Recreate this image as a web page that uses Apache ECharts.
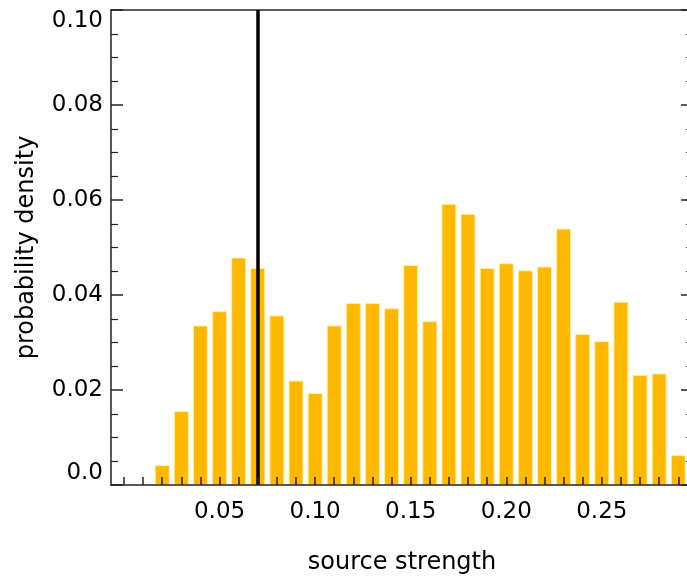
<!DOCTYPE html>
<html>
<head>
<meta charset="utf-8">
<script src="https://cdn.jsdelivr.net/npm/echarts@6/dist/echarts.min.js"></script>
<style>
  html, body { margin: 0; padding: 0; background: #fff; }
  #chart { width: 687px; height: 583px; }
</style>
</head>
<body>
<div id="chart"></div>
<script>
// bin centres (source strength) and histogram heights
const binCenters = [0.02, 0.03, 0.04, 0.05, 0.06, 0.07, 0.08, 0.09, 0.10, 0.11,
  0.12, 0.13, 0.14, 0.15, 0.16, 0.17, 0.18, 0.19, 0.20, 0.21,
  0.22, 0.23, 0.24, 0.25, 0.26, 0.27, 0.28, 0.29];
const densities = [0.0042, 0.0156, 0.0336, 0.0366, 0.0479, 0.0457, 0.0357, 0.0220, 0.0194, 0.0336,
  0.0383, 0.0383, 0.0372, 0.0463, 0.0345, 0.0592, 0.0571, 0.0457, 0.0467, 0.0452,
  0.0460, 0.0540, 0.0318, 0.0303, 0.0386, 0.0232, 0.0235, 0.0063];
const markerValue = 0.07;
const xTickValues = [0.00, 0.01, 0.02, 0.03, 0.04, 0.05, 0.06, 0.07, 0.08, 0.09,
  0.10, 0.11, 0.12, 0.13, 0.14, 0.15, 0.16, 0.17, 0.18, 0.19,
  0.20, 0.21, 0.22, 0.23, 0.24, 0.25, 0.26, 0.27, 0.28, 0.29];
const xLabelValues = [0.05, 0.10, 0.15, 0.20, 0.25];

const font = "'DejaVu Sans', Verdana, sans-serif";
const chart = echarts.init(document.getElementById("chart"));

const frameLine = { show: true, lineStyle: { color: "#222", width: 1.5 } };

chart.setOption({
  animation: false,
  grid: { left: 111, top: 10, width: 582, height: 475, containLabel: false, outerBoundsMode: "none" },
  xAxis: [{
    type: "value",
    min: -0.0068,
    max: 0.2977,
    z: 5,
    name: "source strength",
    nameLocation: "middle",
    nameGap: 66,
    nameTextStyle: { fontFamily: font, fontSize: 24, color: "#000" },
    axisLine: { ...frameLine, onZero: false },
    splitLine: { show: false },
    axisTick: { show: true, inside: true, length: 8, customValues: xTickValues,
      lineStyle: { color: "#222", width: 1.5 } },
    axisLabel: { customValues: xLabelValues, margin: 16, fontFamily: font, fontSize: 23, color: "#000",
      formatter: (v) => v.toFixed(2) },
  }, {
    type: "value",
    position: "top",
    min: -0.0068,
    max: 0.2977,
    axisLine: { ...frameLine, onZero: false },
    axisTick: { show: false },
    axisLabel: { show: false },
    splitLine: { show: false },
  }],
  yAxis: [{
    type: "value",
    min: 0,
    max: 0.1,
    interval: 0.02,
    z: 5,
    name: "probability density",
    nameLocation: "middle",
    nameGap: 72,
    nameTextStyle: { fontFamily: font, fontSize: 24, color: "#000" },
    axisLine: { ...frameLine, onZero: false },
    splitLine: { show: false },
    axisTick: { show: true, inside: true, length: 12, lineStyle: { color: "#222", width: 1.5 } },
    minorTick: { show: true, splitNumber: 4, length: 7, lineStyle: { color: "#222", width: 1.2 } },
    axisLabel: { margin: 8, fontFamily: font, fontSize: 23, color: "#000",
      verticalAlignMinLabel: "bottom", verticalAlignMaxLabel: "top",
      formatter: (v) => (v === 0 ? "0.0" : v.toFixed(2)) },
  }, {
    type: "value",
    position: "right",
    min: 0,
    max: 0.1,
    interval: 0.02,
    z: 5,
    axisLine: { ...frameLine, onZero: false },
    splitLine: { show: false },
    axisTick: { show: true, inside: true, length: 12, lineStyle: { color: "#222", width: 1.5 } },
    minorTick: { show: true, splitNumber: 4, length: 7, lineStyle: { color: "#222", width: 1.2 } },
    axisLabel: { show: false },
  }],
  series: [{
    type: "bar",
    xAxisIndex: 0,
    yAxisIndex: 0,
    barWidth: 15,
    data: binCenters.map((c, i) => [c, densities[i]]),
    itemStyle: { color: "#FFB800", borderColor: "#FFF1A0", borderWidth: 1 },
    markLine: {
      silent: true,
      symbol: "none",
      label: { show: false },
      lineStyle: { color: "#000", width: 3.5, type: "solid" },
      data: [{ xAxis: markerValue }],
    },
  }],
});
</script>
</body>
</html>
